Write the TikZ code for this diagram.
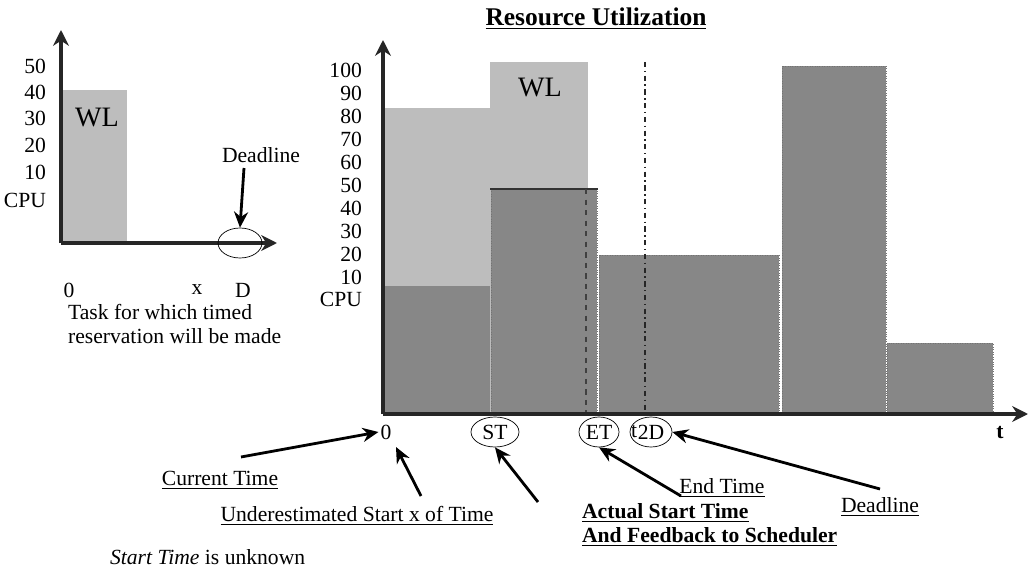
\documentclass[tikz,border=0pt]{standalone}
\usepackage{fontspec}
\setmainfont{Liberation Serif}
\usetikzlibrary{arrows.meta,shapes.geometric}
\definecolor{wlgray}{HTML}{BDBDBD}
\definecolor{usegray}{HTML}{878787}
\tikzset{
  lbl/.style={font=\fontsize{12.3}{14}\selectfont, inner sep=1pt},
  tick/.style={lbl, anchor=east},
  ring/.style={lbl, draw, ellipse, inner sep=0pt, minimum height=0.6cm},
  axis/.style={line width=1.8pt, black!85, -{Stealth[length=9pt,width=9pt]}},
  pointer/.style={line width=1.6pt, -{Stealth[length=9pt,width=8pt]}},
  bar/.style={fill=usegray, draw=black!55, densely dotted, thin},
}
\begin{document}
\begin{tikzpicture}[x=0.02cm, y=-0.02cm]
\useasboundingbox (0,0) rectangle (1029,568);

% small chart: the task
\fill[wlgray] (61,90) rectangle (127,243);
\node[lbl, font=\fontsize{16}{18}\selectfont] (wlA) at (97,118) {WL};
\foreach \v/\y in {50/66, 40/92, 30/118, 20/145, 10/172} {
  \node[tick] at (48,\y) {\v};
}
\node[tick] (cpuA) at (48,200) {CPU};
\draw[axis] (61,243) -- (61,30);
\draw[axis] (61,243) -- (277,243);
\node[ring, minimum width=0.88cm] (dA) at (240,243) {};
\node[lbl] (deadA) at (261,155) {Deadline};
\draw[pointer] (244,168) -- (dA.north);
\node[lbl] (zeroA) at (69,290) {0};
\node[lbl] (xA) at (197,290) {x};
\node[lbl] (DA) at (243,290) {D};
\node[lbl, anchor=west, align=left] (task) at (66,324) {Task for which timed\\reservation will be made};

% main chart
\node[lbl, font=\bfseries\fontsize{14.5}{16}\selectfont] (title) at (596,19) {\underline{Resource Utilization}};
\fill[wlgray] (383,108) rectangle (490,414);
\fill[wlgray] (490,62) rectangle (588,414);
\fill[usegray] (383,286) rectangle (490,414);
\draw[bar] (491,189) rectangle (597,414);
\draw[bar] (599,255) rectangle (779,414);
\draw[bar] (782,66) rectangle (886,414);
\draw[bar] (887,343) rectangle (993,414);
\draw[line width=1pt, black!80] (490,189) -- (598,189);
\draw[line width=1.2pt, dashed, black!75] (586,189) -- (586,414);
\draw[line width=0.8pt, dash dot, black!85] (645,62) -- (645,414);
\node[lbl, font=\fontsize{16}{18}\selectfont] (wlB) at (540,88) {WL};
\foreach \v/\y in {100/70, 90/93, 80/116, 70/139, 60/162, 50/185, 40/208, 30/231, 20/254, 10/277} {
  \node[tick] at (364,\y) {\v};
}
\node[tick] (cpuB) at (364,299) {CPU};
\draw[axis] (383,414) -- (383,40);
\draw[axis] (383,414) -- (1028,414);

\node[lbl] (zeroB) at (386,432) {0};
\node[ring, minimum width=0.96cm] (st) at (495,432) {ST};
\node[ring, minimum width=0.8cm] (et) at (599,432) {ET};
\node[ring, minimum width=0.84cm] (dl) at (651,432) {2D};
\node[lbl] (tdl) at (634,432) {t};
\node[lbl, font=\bfseries\fontsize{12.3}{14}\selectfont] (tax) at (1000,433) {t};

% labels and pointers
\node[lbl] (cur) at (220,480) {\underline{Current Time}};
\draw[pointer] (241,457) -- (zeroB.west);
\node[lbl] (under) at (357,516) {\underline{Underestimated Start x of Time}};
\draw[pointer] (421,496) -- (396,447);
\coordinate (actTail) at (538,502);
\draw[pointer] (actTail) -- (st.south);
\node[lbl] (endt) at (722,488) {\underline{End Time}};
\draw[pointer] (681,496) -- (et.south);
\node[lbl] (deadB) at (880,507) {\underline{Deadline}};
\draw[pointer] (880,489) -- (dl.east);
\node[lbl, anchor=west, align=left, font=\bfseries\fontsize{12.3}{14}\selectfont] (act) at (580,525) {\underline{Actual Start Time}\\\underline{And Feedback to Scheduler}};
\node[lbl, anchor=west] (unk) at (108,557) {\textit{Start Time} is unknown};
\end{tikzpicture}
\end{document}
